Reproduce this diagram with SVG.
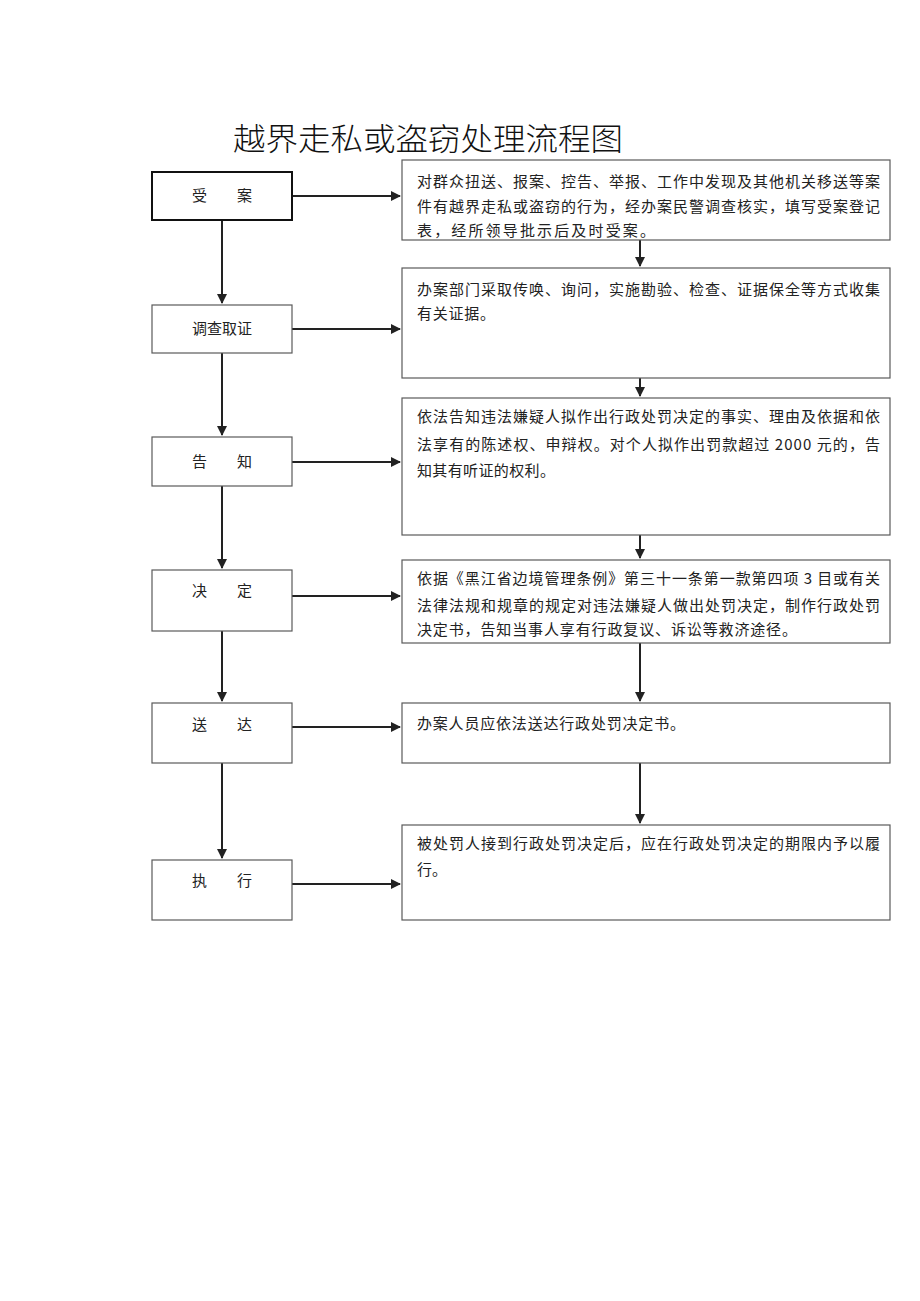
<svg xmlns="http://www.w3.org/2000/svg" width="920" height="1301" viewBox="0 0 920 1301">
<defs>
<style>
.bx{fill:#fff;stroke:#5a5a5a;stroke-width:1.2}
.bx1{fill:#fff;stroke:#111;stroke-width:2}
.t{font-family:"Noto Sans CJK SC","Liberation Serif",sans-serif;font-size:15px;fill:#222}
.lb{font-family:"Noto Sans CJK SC","Liberation Serif",sans-serif;font-size:15px;fill:#222;text-anchor:middle}
.ttl{font-family:"Noto Sans CJK SC",sans-serif;font-size:31px;fill:#111;font-weight:300}
.ar{stroke:#222;stroke-width:2;fill:none;marker-end:url(#ah)}
</style>
<marker id="ah" viewBox="0 0 10 10" refX="9" refY="5" markerWidth="5" markerHeight="5" orient="auto" markerUnits="strokeWidth">
<path d="M0,0 L10,5 L0,10 z" fill="#222"/>
</marker>
</defs>
<rect width="920" height="1301" fill="#fff"/>
<text class="ttl" x="233" y="150" textLength="390" lengthAdjust="spacingAndGlyphs">越界走私或盗窃处理流程图</text>

<g id="connectors">
<line class="ar" x1="292" y1="196" x2="400" y2="196"/>
<line class="ar" x1="292" y1="329" x2="400" y2="329"/>
<line class="ar" x1="292" y1="462" x2="400" y2="462"/>
<line class="ar" x1="292" y1="596" x2="400" y2="596"/>
<line class="ar" x1="292" y1="727" x2="400" y2="727"/>
<line class="ar" x1="292" y1="884" x2="400" y2="884"/>
<line class="ar" x1="222" y1="220" x2="222" y2="303"/>
<line class="ar" x1="222" y1="353" x2="222" y2="435"/>
<line class="ar" x1="222" y1="486" x2="222" y2="568"/>
<line class="ar" x1="222" y1="631" x2="222" y2="701"/>
<line class="ar" x1="222" y1="763" x2="222" y2="858"/>
<line class="ar" x1="640" y1="240" x2="640" y2="266"/>
<line class="ar" x1="640" y1="378" x2="640" y2="396"/>
<line class="ar" x1="640" y1="535" x2="640" y2="558"/>
<line class="ar" x1="640" y1="643" x2="640" y2="701"/>
<line class="ar" x1="640" y1="763" x2="640" y2="823"/>
</g>

<g id="n1"><rect class="bx1" x="152" y="172" width="140" height="48"/><text class="lb" x="222" y="201">受　　案</text></g>
<g id="n2"><rect class="bx" x="152" y="305" width="140" height="48"/><text class="lb" x="222" y="334">调查取证</text></g>
<g id="n3"><rect class="bx" x="152" y="437" width="140" height="49"/><text class="lb" x="222" y="467">告　　知</text></g>
<g id="n4"><rect class="bx" x="152" y="570" width="140" height="61"/><text class="lb" x="222" y="596">决　　定</text></g>
<g id="n5"><rect class="bx" x="152" y="703" width="140" height="60"/><text class="lb" x="222" y="730">送　　达</text></g>
<g id="n6"><rect class="bx" x="152" y="860" width="140" height="60"/><text class="lb" x="222" y="886">执　　行</text></g>

<g id="r1"><rect class="bx" x="402" y="160" width="488" height="80"/>
<text class="t" x="417" y="187" textLength="463" lengthAdjust="spacing">对群众扭送、报案、控告、举报、工作中发现及其他机关移送等案</text>
<text class="t" x="417" y="212" textLength="463" lengthAdjust="spacing">件有越界走私或盗窃的行为，经办案民警调查核实，填写受案登记</text>
<text class="t" x="417" y="236" textLength="238" lengthAdjust="spacing">表，经所领导批示后及时受案。</text></g>

<g id="r2"><rect class="bx" x="402" y="268" width="488" height="110"/>
<text class="t" x="417" y="295" textLength="463" lengthAdjust="spacing">办案部门采取传唤、询问，实施勘验、检查、证据保全等方式收集</text>
<text class="t" x="417" y="319" textLength="78" lengthAdjust="spacing">有关证据。</text></g>

<g id="r3"><rect class="bx" x="402" y="398" width="488" height="137"/>
<text class="t" x="417" y="422" textLength="463" lengthAdjust="spacing">依法告知违法嫌疑人拟作出行政处罚决定的事实、理由及依据和依</text>
<text class="t" x="417" y="450" textLength="463" lengthAdjust="spacing">法享有的陈述权、申辩权。对个人拟作出罚款超过 2000 元的，告</text>
<text class="t" x="417" y="476" textLength="138" lengthAdjust="spacing">知其有听证的权利。</text></g>

<g id="r4"><rect class="bx" x="402" y="560" width="488" height="83"/>
<text class="t" x="417" y="584" textLength="463" lengthAdjust="spacing">依据《黑江省边境管理条例》第三十一条第一款第四项 3 目或有关</text>
<text class="t" x="417" y="611" textLength="463" lengthAdjust="spacing">法律法规和规章的规定对违法嫌疑人做出处罚决定，制作行政处罚</text>
<text class="t" x="417" y="635" textLength="380" lengthAdjust="spacing">决定书，告知当事人享有行政复议、诉讼等救济途径。</text></g>

<g id="r5"><rect class="bx" x="402" y="703" width="488" height="60"/>
<text class="t" x="417" y="729" textLength="268" lengthAdjust="spacing">办案人员应依法送达行政处罚决定书。</text></g>

<g id="r6"><rect class="bx" x="402" y="825" width="488" height="95"/>
<text class="t" x="417" y="849" textLength="463" lengthAdjust="spacing">被处罚人接到行政处罚决定后，应在行政处罚决定的期限内予以履</text>
<text class="t" x="417" y="875">行。</text></g>
</svg>
